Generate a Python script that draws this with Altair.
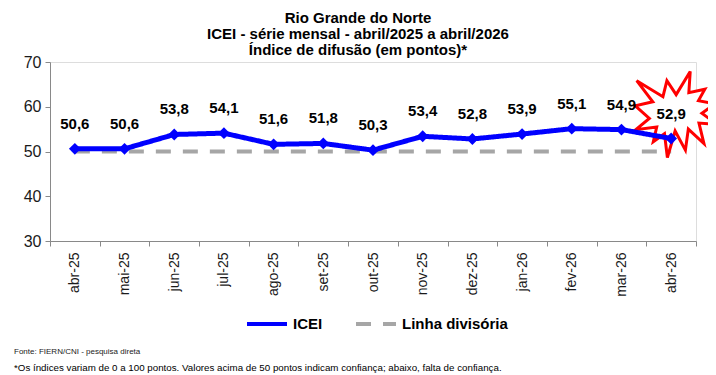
import altair as alt
import pandas as pd

# ---- data ----
months = ["abr-25", "mai-25", "jun-25", "jul-25", "ago-25", "set-25", "out-25",
          "nov-25", "dez-25", "jan-26", "fev-26", "mar-26", "abr-26"]
icei = [50.6, 50.6, 53.8, 54.1, 51.6, 51.8, 50.3, 53.4, 52.8, 53.9, 55.1, 54.9, 52.9]
divisoria = [50] * len(months)
series_names = ["ICEI", "Linha divisória"]
title_lines = ["Rio Grande do Norte",
               "ICEI - série mensal - abril/2025 a abril/2026",
               "Índice de difusão (em pontos)*"]
source_note = ["Fonte: FIERN/CNI - pesquisa direta"]
footnote = ["*Os índices variam de 0 a 100 pontos. Valores acima de 50 pontos indicam confiança; abaixo, falta de confiança."]

FONT = "Liberation Sans"

df_icei = pd.DataFrame({
    "mes": months, "valor": icei, "serie": series_names[0],
    "rotulo": [f"{v:.1f}".replace(".", ",") for v in icei],
})
df_div = pd.DataFrame({"mes": months, "valor": divisoria, "serie": series_names[1]})
df_last = df_icei.tail(1)

# Excel "Explosion 1" (irregularSeal1) outline, unit coordinates
seal = [(10800, 5800), (14522, 0), (14155, 5325), (18380, 4457), (16702, 7315),
        (21097, 8137), (17607, 10475), (21600, 13290), (16837, 12942), (18145, 18095),
        (14020, 14457), (13247, 19737), (10532, 14935), (8485, 21600), (7715, 15627),
        (4762, 17617), (5667, 13937), (135, 14587), (3722, 11775), (0, 8615),
        (4627, 7617), (370, 2295), (7312, 6320), (8352, 2295)]
star_path = "M" + " L".join(f"{(x / 10800 - 1) * 0.95:.3f},{(y / 10800 - 1):.3f}" for x, y in seal) + " Z"

legend_kw = dict(title=None, orient="none", legendX=195, legendY=240,
                 direction="horizontal", symbolType="stroke",
                 symbolSize=1600, symbolStrokeWidth=4, labelFontSize=15,
                 labelFontWeight="bold", labelFont=FONT, labelColor="#000000",
                 columnPadding=25, labelOffset=4)

x_enc = alt.X("mes:N", sort=months, bandPosition=0.5,
              scale=alt.Scale(type="band", domain=months, paddingInner=0, paddingOuter=0),
              axis=alt.Axis(title=None, labelAngle=-90, labelFontSize=14, labelColor="#1a1a1a",
                            labelPadding=6, tickBand="extent", tickSize=5,
                            domainColor="#898989", tickColor="#898989", labelFont=FONT))
y_enc = alt.Y("valor:Q", scale=alt.Scale(domain=[30, 70]),
              axis=alt.Axis(title=None, values=[30, 40, 50, 60, 70], grid=False,
                            labelFontSize=16, labelColor="#1a1a1a", tickSize=5, labelPadding=4,
                            domainColor="#898989", tickColor="#898989", labelFont=FONT))
color_enc = alt.Color("serie:N", scale=alt.Scale(domain=series_names, range=["#0000FF", "#A6A6A6"]),
                      legend=alt.Legend(**legend_kw))
dash_enc = alt.StrokeDash("serie:N", scale=alt.Scale(domain=series_names, range=[[1, 0], [15, 12]]),
                          legend=alt.Legend(**legend_kw))

div_line = alt.Chart(df_div).mark_line(strokeWidth=4).encode(
    x=x_enc, y=y_enc, color=color_enc, strokeDash=dash_enc)

star = alt.Chart(df_last).mark_point(shape=star_path, filled=True, fill="white", stroke="#FF0000",
                                     strokeWidth=3, size=7400, opacity=1, xOffset=5, yOffset=-24).encode(
    x=x_enc, y=y_enc)

icei_line = alt.Chart(df_icei).mark_line(strokeWidth=5).encode(
    x=x_enc, y=y_enc, color=color_enc, strokeDash=dash_enc)

icei_pts = alt.Chart(df_icei).mark_point(shape="diamond", filled=True, color="#0000FF",
                                         size=140, opacity=1).encode(x=x_enc, y=y_enc)

labels = alt.Chart(df_icei).mark_text(dy=-25, fontSize=15, fontWeight="bold", font=FONT,
                                      color="#000000").encode(x=x_enc, y=y_enc, text="rotulo:N")

src = alt.Chart(pd.DataFrame({"t": source_note})).mark_text(
    align="left", baseline="middle", fontSize=8, font=FONT, color="#222222").encode(
    x=alt.value(-36), y=alt.value(290), text="t:N")
foot = alt.Chart(pd.DataFrame({"t": footnote})).mark_text(
    align="left", baseline="middle", fontSize=9.75, font=FONT, color="#000000").encode(
    x=alt.value(-36), y=alt.value(306), text="t:N")

chart = alt.layer(div_line, star, icei_line, icei_pts, labels, src, foot).properties(
    width=646, height=179,
    autosize=alt.AutoSizeParams(type="none"),
    padding={"left": 42, "top": 54, "right": 12, "bottom": 134},
    title=alt.TitleParams(text=title_lines, fontSize=15, font=FONT, fontWeight="bold",
                          anchor="middle", dx=-15, offset=-4, lineHeight=16, color="#000000"),
).configure_view(stroke=None).configure(background="white")

chart.save("out.html", embed_options={"renderer": "svg", "actions": False})
